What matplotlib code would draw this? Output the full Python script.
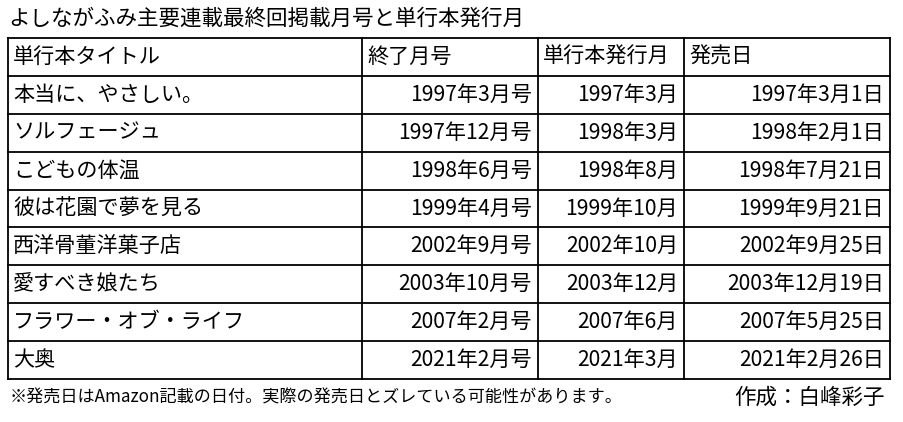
import matplotlib.pyplot as plt

plt.rcParams['font.family'] = 'Noto Sans CJK JP'

title = 'よしながふみ主要連載最終回掲載月号と単行本発行月'
headers = ['単行本タイトル', '終了月号', '単行本発行月', '発売日']
titles = ['本当に、やさしい。', 'ソルフェージュ', 'こどもの体温', '彼は花園で夢を見る',
          '西洋骨董洋菓子店', '愛すべき娘たち', 'フラワー・オブ・ライフ', '大奥']
end_issue = ['1997年3月号', '1997年12月号', '1998年6月号', '1999年4月号',
             '2002年9月号', '2003年10月号', '2007年2月号', '2021年2月号']
book_month = ['1997年3月', '1998年3月', '1998年8月', '1999年10月',
              '2002年10月', '2003年12月', '2007年6月', '2021年3月']
release = ['1997年3月1日', '1998年2月1日', '1998年7月21日', '1999年9月21日',
           '2002年9月25日', '2003年12月19日', '2007年5月25日', '2021年2月26日']
note = '※発売日はAmazon記載の日付。実際の発売日とズレている可能性があります。'
credit = '作成：白峰彩子'

W, H = 904, 422
fig = plt.figure(figsize=(W / 100, H / 100), dpi=100)
ax = fig.add_axes([0, 0, 1, 1])
ax.set_xlim(0, W)
ax.set_ylim(H, 0)
ax.axis('off')

cols = [8, 362, 538, 684, 890]
top, bottom = 38, 379
nrows = len(titles) + 1
rh = (bottom - top) / nrows

for i in range(nrows + 1):
    y = top + i * rh
    ax.plot([cols[0], cols[-1]], [y, y], color='black', lw=1.3)
for x in cols:
    ax.plot([x, x], [top, bottom], color='black', lw=1.3)

fs = 15.2
ax.text(8, 19, title, fontsize=15.5, va='center', ha='left')
for j, h in enumerate(headers):
    ax.text(cols[j] + 5, top + rh / 2, h, fontsize=fs, va='center', ha='left')

for i in range(len(titles)):
    yc = top + (i + 1.5) * rh
    ax.text(cols[0] + 5, yc, titles[i], fontsize=fs, va='center', ha='left')
    for j, vals in enumerate([end_issue, book_month, release]):
        ax.text(cols[j + 2] - 6, yc, vals[i], fontsize=fs, va='center', ha='right')

ax.text(10, 398, note, fontsize=12.3, va='center', ha='left')
ax.text(885, 398, credit, fontsize=15.5, va='center', ha='right')

fig.savefig('out.png', dpi=100, facecolor='white')
